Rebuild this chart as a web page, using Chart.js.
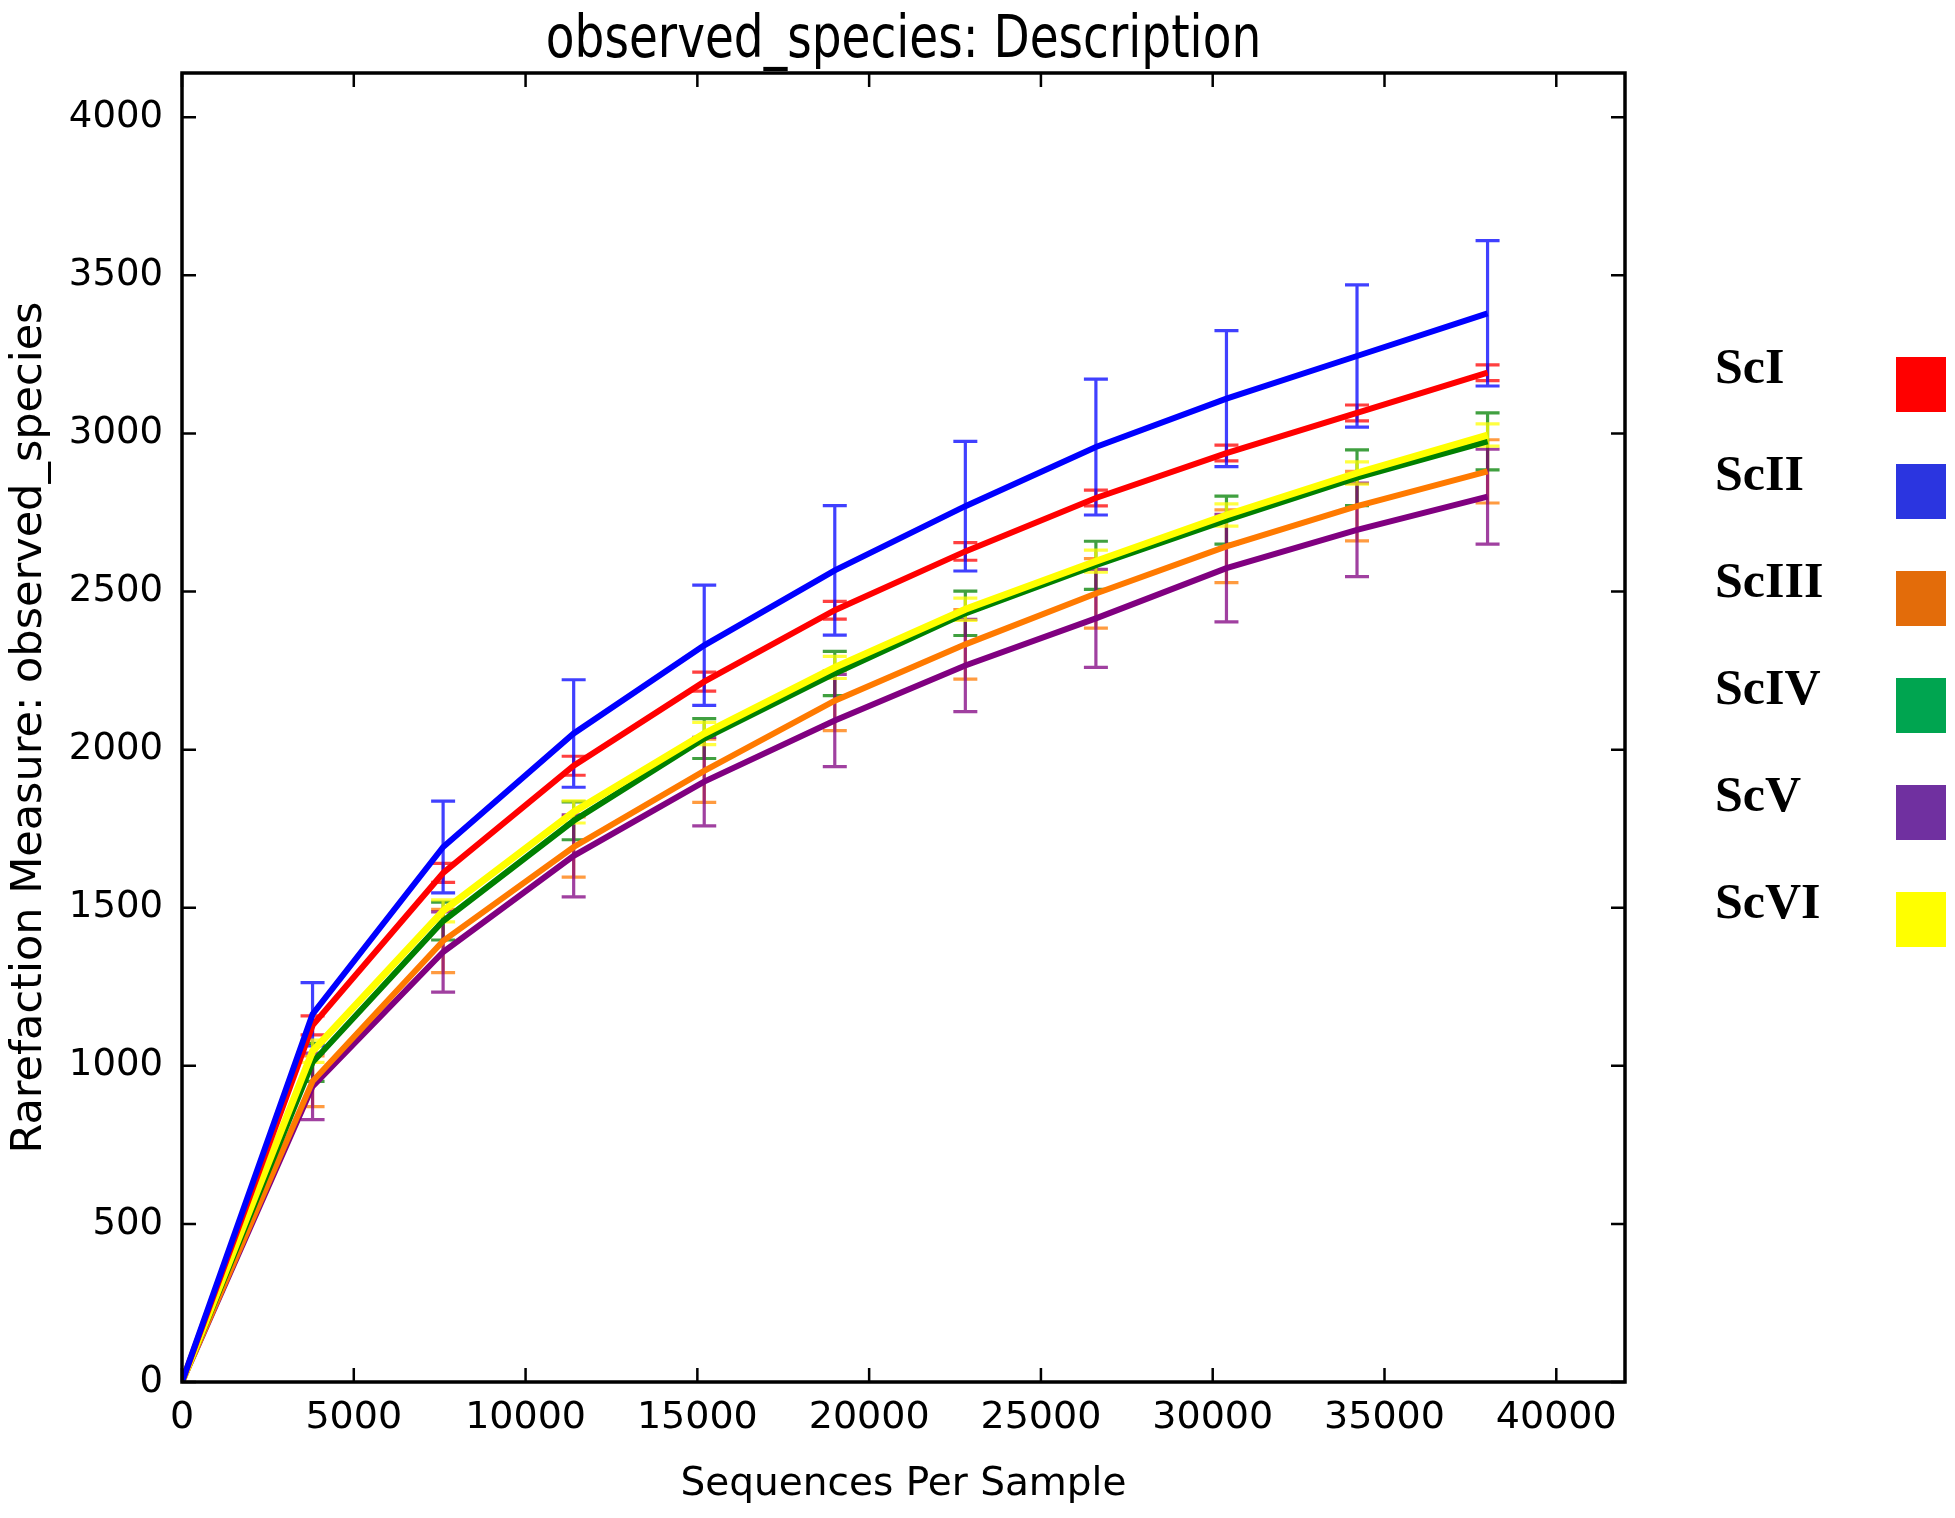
<!DOCTYPE html>
<html lang="en">
<head>
    <meta charset="UTF-8">
    <title>observed_species: Description</title>
    <script src="https://cdn.jsdelivr.net/npm/chart.js"></script>
    <style>
        html, body {
            margin: 0;
            padding: 0;
            background: #fff;
        }
        #chart {
            display: block;
        }
    </style>
</head>
<body>
<canvas id="chart" width="1955" height="1518"></canvas>
<script>
    // sequences per sample (x positions of the rarefaction steps)
    const depths = [0, 3800, 7600, 11400, 15200, 19000, 22800, 26600, 30400, 34200, 38000];

    const seriesNames = ['ScI', 'ScII', 'ScIII', 'ScIV', 'ScV', 'ScVI'];

    // mean observed species per depth
    const scI   = [0, 1128, 1610, 1949, 2215, 2441, 2627, 2796, 2938, 3065, 3192];
    const scII  = [0, 1163, 1692, 2051, 2330, 2567, 2770, 2957, 3110, 3245, 3380];
    const scIII = [0, 951, 1395, 1692, 1933, 2155, 2333, 2494, 2643, 2770, 2880];
    const scIV  = [0, 1011, 1458, 1775, 2035, 2241, 2431, 2583, 2726, 2860, 2975];
    const scV   = [0, 935, 1360, 1664, 1899, 2092, 2266, 2415, 2574, 2695, 2800];
    const scVI  = [0, 1046, 1490, 1803, 2051, 2260, 2444, 2596, 2742, 2875, 2995];

    // error bar half heights (std dev)
    const errI   = [0, 30, 30, 30, 30, 28, 28, 25, 25, 25, 25];
    const errII  = [0, 100, 145, 170, 190, 205, 205, 215, 215, 225, 230];
    const errIII = [0, 80, 100, 95, 100, 95, 110, 110, 115, 110, 100];
    const errIV  = [0, 60, 60, 60, 63, 70, 70, 76, 76, 88, 90];
    const errV   = [0, 105, 127, 130, 140, 146, 146, 155, 170, 148, 150];
    const errVI  = [0, 35, 35, 35, 35, 35, 35, 35, 35, 35, 35];

    // axis ticks
    const xTicks = [0, 5000, 10000, 15000, 20000, 25000, 30000, 35000, 40000];
    const yTicks = [0, 500, 1000, 1500, 2000, 2500, 3000, 3500, 4000];

    const means = [scI, scII, scIII, scIV, scV, scVI];
    const errs = [errI, errII, errIII, errIV, errV, errVI];
    const lineColors = ['#ff0000', '#0000ff', '#ff7a00', '#008000', '#800080', '#ffff00'];
    const legendColors = ['#ff0000', '#2b35e0', '#e36c0a', '#00a550', '#7030a0', '#ffff00'];
    const drawOrder = [1, 0, 4, 3, 5, 2];   // lower = drawn on top

    const datasets = seriesNames.map((name, i) => ({
        label: name,
        data: depths.map((d, j) => ({x: d, y: means[i][j]})),
        borderColor: lineColors[i],
        backgroundColor: lineColors[i],
        borderWidth: i === 5 ? 7 : 6,
        pointRadius: 0,
        tension: 0,
        fill: false,
        order: drawOrder[i],
        errors: errs[i]
    }));

    // error bars under the lines
    const errorBars = {
        id: 'errorBars',
        beforeDatasetsDraw(chart) {
            const ctx = chart.ctx;
            const xs = chart.scales.x, ys = chart.scales.y;
            ctx.save();
            chart.data.datasets.forEach((ds, i) => {
                ctx.strokeStyle = ds.borderColor;
                ctx.globalAlpha = 0.75;
                ctx.lineWidth = 3.2;
                ds.data.forEach((p, j) => {
                    const e = ds.errors[j];
                    if (!e) return;
                    const px = xs.getPixelForValue(p.x);
                    const top = ys.getPixelForValue(p.y + e);
                    const bot = ys.getPixelForValue(p.y - e);
                    ctx.beginPath();
                    ctx.moveTo(px, top); ctx.lineTo(px, bot);
                    ctx.moveTo(px - 12, top); ctx.lineTo(px + 12, top);
                    ctx.moveTo(px - 12, bot); ctx.lineTo(px + 12, bot);
                    ctx.stroke();
                });
            });
            ctx.restore();
        }
    };

    // frame, inward ticks, title and legend
    const decorations = {
        id: 'decorations',
        afterDraw(chart) {
            const ctx = chart.ctx;
            const a = chart.chartArea;
            const xs = chart.scales.x, ys = chart.scales.y;
            ctx.save();
            ctx.strokeStyle = '#000';
            ctx.lineWidth = 2.5;
            ctx.beginPath();
            xTicks.forEach(v => {
                const px = xs.getPixelForValue(v);
                ctx.moveTo(px, a.bottom); ctx.lineTo(px, a.bottom - 14);
                ctx.moveTo(px, a.top); ctx.lineTo(px, a.top + 14);
            });
            yTicks.forEach(v => {
                const py = ys.getPixelForValue(v);
                ctx.moveTo(a.left, py); ctx.lineTo(a.left + 14, py);
                ctx.moveTo(a.right, py); ctx.lineTo(a.right - 14, py);
            });
            ctx.stroke();
            ctx.lineWidth = 3.5;
            ctx.strokeRect(a.left, a.top, a.right - a.left, a.bottom - a.top);

            // title, a little taller than wide like the original
            ctx.fillStyle = '#000';
            ctx.textAlign = 'center';
            ctx.textBaseline = 'alphabetic';
            ctx.translate((a.left + a.right) / 2, 57);
            ctx.scale(1, 1.26);
            ctx.font = '47px "DejaVu Sans"';
            ctx.fillText('observed_species: Description', 0, 0);
            ctx.restore();

            // legend: label left, colour square right
            ctx.save();
            ctx.font = 'bold 50px "Liberation Serif"';
            ctx.textAlign = 'left';
            ctx.textBaseline = 'middle';
            seriesNames.forEach((name, i) => {
                const cy = 370 + i * 107;
                ctx.fillStyle = '#000';
                ctx.fillText(name, 1715, cy);
                ctx.fillStyle = legendColors[i];
                ctx.fillRect(1896, cy + 14 - 27, 50, 55);
            });
            ctx.restore();
        }
    };

    new Chart(document.getElementById('chart').getContext('2d'), {
        type: 'line',
        data: {datasets: datasets},
        options: {
            responsive: false,
            devicePixelRatio: 1,
            animation: false,
            layout: {padding: {left: 0, top: 73, right: 330, bottom: 0}},
            plugins: {
                legend: {display: false},
                tooltip: {enabled: false}
            },
            scales: {
                x: {
                    type: 'linear',
                    min: 0,
                    max: 42000,
                    afterBuildTicks: s => { s.ticks = xTicks.map(v => ({value: v})); },
                    afterFit: s => { s.height = 136; },
                    grid: {display: false, drawTicks: false},
                    border: {display: false},
                    ticks: {
                        color: '#000',
                        padding: 13,
                        maxRotation: 0,
                        callback: v => String(v),
                        font: {family: 'DejaVu Sans', size: 38}
                    },
                    title: {
                        display: true,
                        text: 'Sequences Per Sample',
                        color: '#000',
                        font: {family: 'DejaVu Sans', size: 39},
                        padding: {top: 0, bottom: 10}
                    }
                },
                y: {
                    type: 'linear',
                    min: 0,
                    max: 4140,
                    afterBuildTicks: s => { s.ticks = yTicks.map(v => ({value: v})); },
                    afterFit: s => { s.width = 182; },
                    grid: {display: false, drawTicks: false},
                    border: {display: false},
                    ticks: {
                        color: '#000',
                        padding: 19,
                        callback: v => String(v),
                        font: {family: 'DejaVu Sans', size: 37}
                    },
                    title: {
                        display: true,
                        text: 'Rarefaction Measure: observed_species',
                        color: '#000',
                        font: {family: 'DejaVu Sans', size: 43},
                        padding: {top: 4, bottom: 0}
                    }
                }
            }
        },
        plugins: [errorBars, decorations]
    });
</script>
</body>
</html>
